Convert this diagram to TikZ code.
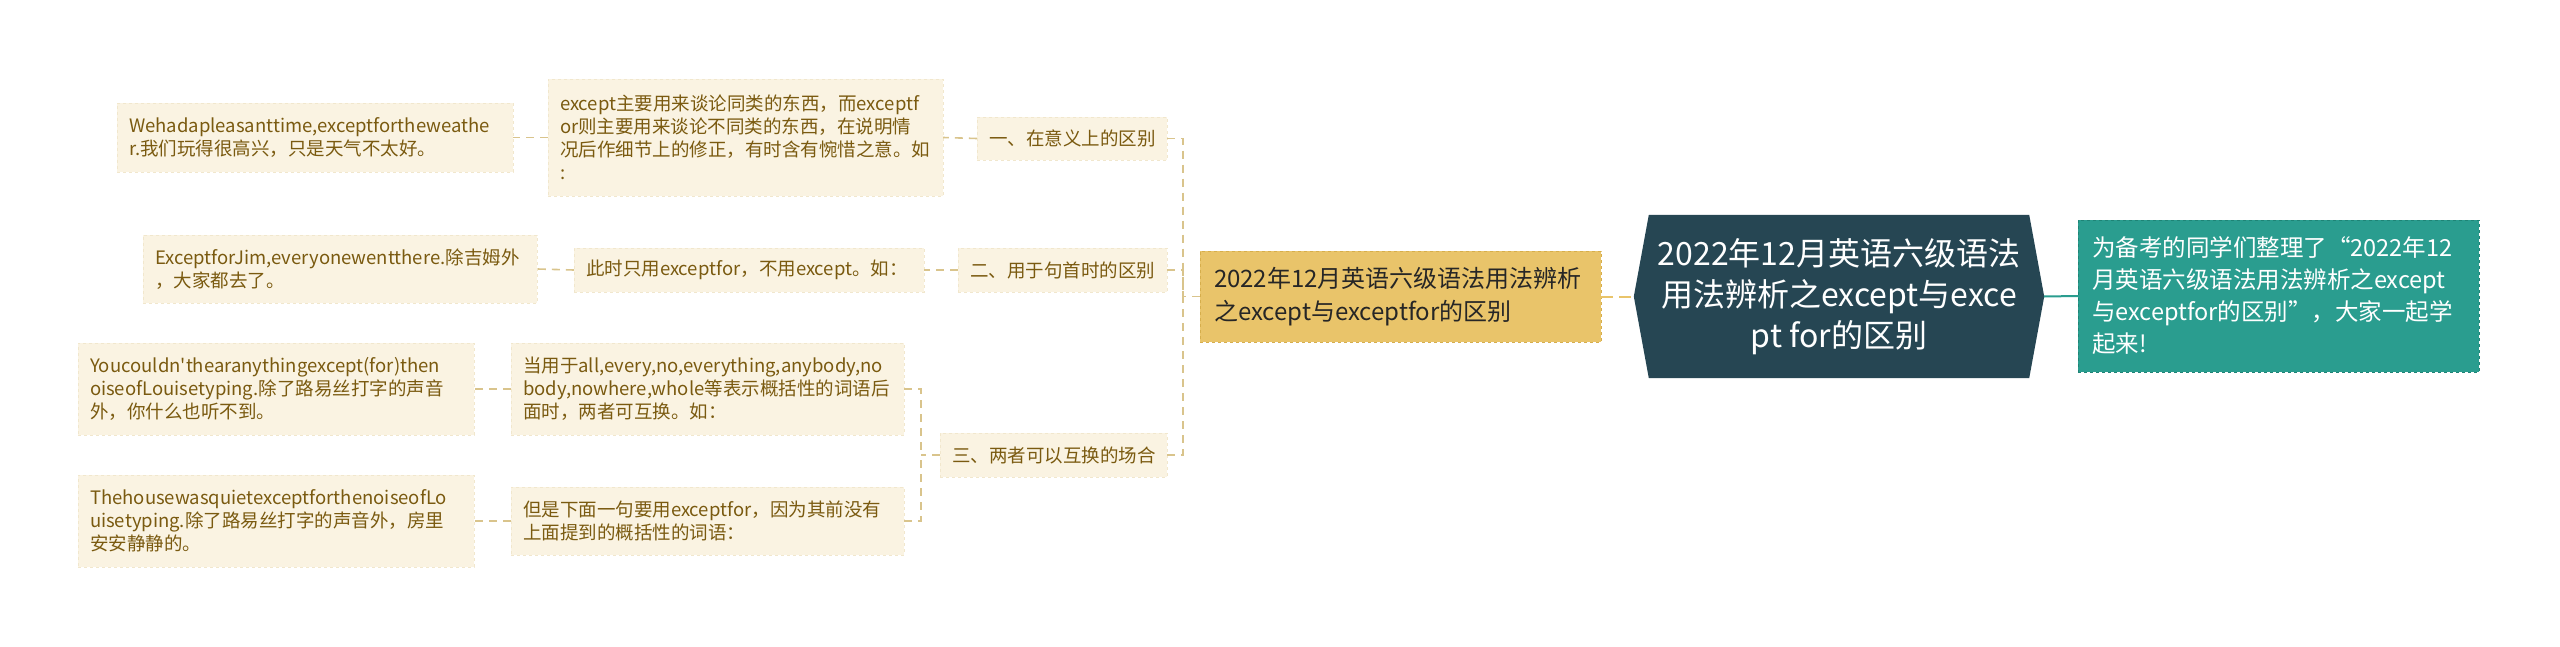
\documentclass[tikz,border=0pt]{standalone}
\usepackage{fontspec}
\newfontfamily\cjk{Noto Sans CJK SC}
\usetikzlibrary{backgrounds}
\definecolor{rootc}{HTML}{264653}
\definecolor{tealc}{HTML}{2A9D8F}
\definecolor{tealb}{HTML}{1E8476}
\definecolor{goldc}{HTML}{E9C46A}
\definecolor{goldb}{HTML}{D6AE4C}
\definecolor{creamc}{HTML}{FAF3E2}
\definecolor{creamb}{HTML}{F1E7CD}
\definecolor{brownt}{HTML}{7A5A10}
\definecolor{connc}{HTML}{D9C48C}
\tikzset{
  smallbox/.style={draw=creamb, dashed, fill=creamc, text=brownt, align=left,
    font=\cjk\fontsize{18.5}{23}\selectfont, inner xsep=12pt, inner ysep=0pt, anchor=center},
  conn/.style={draw=connc, line width=1.6pt, dash pattern=on 8pt off 6pt},
  goldbox/.style={draw=goldb, dashed, fill=goldc, text=black!85, align=left,
    font=\cjk\fontsize{24}{33}\selectfont, inner xsep=14pt, inner ysep=0pt},
  tealbox/.style={draw=tealb, dashed, fill=tealc, text=white, align=left,
    font=\cjk\fontsize{23.5}{32}\selectfont, inner xsep=14pt, inner ysep=0pt},
  rootbox/.style={text=white, align=center, font=\cjk\fontsize{32}{41}\selectfont, inner sep=0pt}
}
\begin{document}
\begin{tikzpicture}[x=1pt,y=-1pt]
\useasboundingbox (0,0) rectangle (2560,647);

% root
\node[rootbox, minimum width=410pt, minimum height=163pt] (root) at (1839,296.5)
  {2022年12月英语六级语法\\用法辨析之except与exce\\pt for的区别};
\begin{scope}[on background layer]
\fill[white] (0,0) rectangle (2560,647);
\fill[rootc] ([xshift=15pt]root.north west) -- ([xshift=-15pt]root.north east) -- (root.east)
  -- ([xshift=-15pt]root.south east) -- ([xshift=15pt]root.south west) -- (root.west) -- cycle;
\end{scope}

% right teal note
\node[tealbox, text width=373pt, minimum height=152pt] (note) at (2278.5,296)
  {为备考的同学们整理了“2022年12\\月英语六级语法用法辨析之except\\与exceptfor的区别”，大家一起学\\起来!};

% gold main branch
\node[goldbox, text width=373pt, minimum height=91pt] (main) at (1400.5,296.5)
  {2022年12月英语六级语法用法辨析\\之except与exceptfor的区别};

% level 1
\node[smallbox, text width=166pt, minimum height=43pt] (l1) at (1072,138.5) {一、在意义上的区别};
\node[smallbox, text width=185pt, minimum height=44pt] (l2) at (1062.5,270) {二、用于句首时的区别};
\node[smallbox, text width=203pt, minimum height=44pt] (l3) at (1053.5,455) {三、两者可以互换的场合};

% level 2
\node[smallbox, text width=371pt, minimum height=117pt] (a) at (745.5,137.5)
  {except主要用来谈论同类的东西，而exceptf\\or则主要用来谈论不同类的东西，在说明情\\况后作细节上的修正，有时含有惋惜之意。如\\:};
\node[smallbox, text width=326pt, minimum height=44pt] (b) at (749,270)
  {此时只用exceptfor，不用except。如：};
\node[smallbox, text width=369pt, minimum height=92pt] (c) at (707.5,389)
  {当用于all,every,no,everything,anybody,no\\body,nowhere,whole等表示概括性的词语后\\面时，两者可互换。如：};
\node[smallbox, text width=369pt, minimum height=68pt] (d) at (707.5,521)
  {但是下面一句要用exceptfor，因为其前没有\\上面提到的概括性的词语：};

% leaves
\node[smallbox, text width=372pt, minimum height=69pt] (a1) at (315,137.5)
  {Wehadapleasanttime,exceptfortheweathe\\r.我们玩得很高兴，只是天气不太好。};
\node[smallbox, text width=370pt, minimum height=68pt] (b1) at (340,269)
  {ExceptforJim,everyonewentthere.除吉姆外\\，大家都去了。};
\node[smallbox, text width=372pt, minimum height=92pt] (c1) at (276,389)
  {Youcouldn'thearanythingexcept(for)then\\oiseofLouisetyping.除了路易丝打字的声音\\外，你什么也听不到。};
\node[smallbox, text width=372pt, minimum height=92pt] (d1) at (276,521)
  {ThehousewasquietexceptforthenoiseofLo\\uisetyping.除了路易丝打字的声音外，房里\\安安静静的。};

% spine coordinates
\coordinate (s1) at (1183,296.5);
\coordinate (s3) at (921,455);

% connectors
\draw[draw=tealc, line width=2pt] (root.east) -- (note.west);
\draw[draw=goldc, line width=2pt, dash pattern=on 12pt off 6pt] (main.east) -- (root.west);
\draw[conn] (main.west) -- (s1);
\draw[conn] (l1.east) -| (s1);
\draw[conn] (l2.east) -| (s1);
\draw[conn] (l3.east) -| (s1);
\draw[conn] (l1.west) -- (a.east);
\draw[conn] (a.west) -- (a1.east);
\draw[conn] (l2.west) -- (b.east);
\draw[conn] (b.west) -- (b1.east);
\draw[conn] (l3.west) -- (s3);
\draw[conn] (c.east) -| (s3);
\draw[conn] (d.east) -| (s3);
\draw[conn] (c.west) -- (c1.east);
\draw[conn] (d.west) -- (d1.east);
\end{tikzpicture}
\end{document}
